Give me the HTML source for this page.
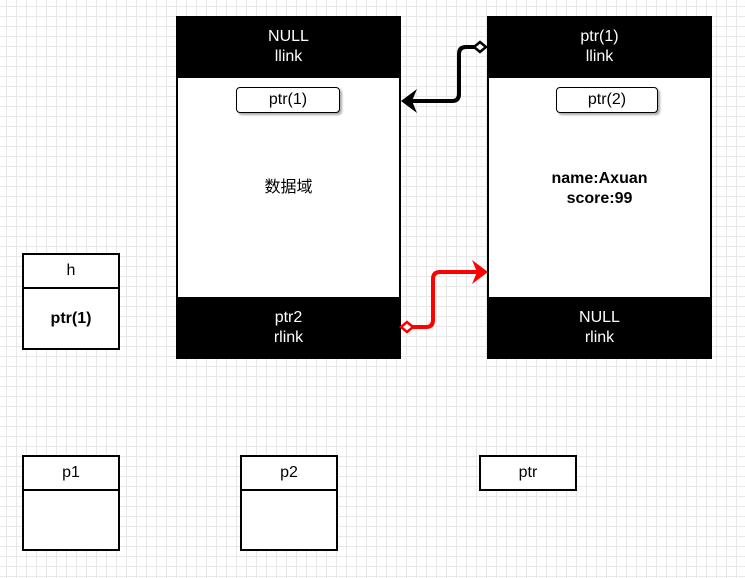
<!DOCTYPE html>
<html><head><meta charset="utf-8"><style>
body{margin:0;width:745px;height:578px;overflow:hidden;background:#fff;
background-image:linear-gradient(#e8e8e8 1px,transparent 1px),linear-gradient(90deg,#e8e8e8 1px,transparent 1px);background-size:10px 10px;background-position:-4px -4px;
font-family:"Liberation Sans","Noto Sans CJK SC",sans-serif;font-size:16px}
.a{position:absolute;box-sizing:border-box;display:flex;align-items:center;justify-content:center;text-align:center;line-height:20px}
</style></head><body>
<div class="a" style="left:176px;top:16px;width:225px;height:343px;background:#fff;border:2px solid #000"></div>
<div class="a" style="left:176px;top:16px;width:225px;height:62px;background:#000;color:#fff">NULL<br>llink</div>
<div class="a" style="left:176px;top:297px;width:225px;height:62px;background:#000;color:#fff">ptr2<br>rlink</div>
<div class="a" style="left:236px;top:87px;width:104px;height:26px;border:1.5px solid #000;border-radius:4px;box-shadow:2px 2px 2px #aaa;background:#fff">ptr(1)</div>
<div class="a" style="left:176px;top:176px;width:225px;height:24px">数据域</div>

<div class="a" style="left:487px;top:16px;width:225px;height:343px;background:#fff;border:2px solid #000"></div>
<div class="a" style="left:487px;top:16px;width:225px;height:62px;background:#000;color:#fff">ptr(1)<br>llink</div>
<div class="a" style="left:487px;top:297px;width:225px;height:62px;background:#000;color:#fff">NULL<br>rlink</div>
<div class="a" style="left:556px;top:87px;width:102px;height:26px;border:1.5px solid #000;border-radius:4px;box-shadow:2px 2px 2px #aaa;background:#fff">ptr(2)</div>
<div class="a" style="left:487px;top:168px;width:225px;height:42px;font-weight:bold">name:Axuan<br>score:99</div>

<div class="a" style="left:22px;top:253px;width:98px;height:36px;border:2px solid #000;background:#fff">h</div>
<div class="a" style="left:22px;top:287px;width:98px;height:63px;border:2px solid #000;background:#fff;font-weight:bold">ptr(1)</div>

<div class="a" style="left:22px;top:455px;width:98px;height:36px;border:2px solid #000;background:#fff">p1</div>
<div class="a" style="left:22px;top:489px;width:98px;height:62px;border:2px solid #000;background:#fff"></div>
<div class="a" style="left:240px;top:455px;width:98px;height:36px;border:2px solid #000;background:#fff">p2</div>
<div class="a" style="left:240px;top:489px;width:98px;height:62px;border:2px solid #000;background:#fff"></div>
<div class="a" style="left:479px;top:455px;width:98px;height:36px;border:2px solid #000;background:#fff">ptr</div>

<svg width="745" height="578" style="position:absolute;left:0;top:0">
<path d="M480 47 H466 Q459 47 459 54 V94 Q459 101 452 101 H408" fill="none" stroke="#000" stroke-width="4"/>
<path d="M401 101 L417 89 L412 101 L417 113 Z" fill="#000"/>
<path d="M474 47 L480 42 L486 47 L480 52 Z" fill="#fff" stroke="#000" stroke-width="2.5"/>
<path d="M412 327 H426 Q433 327 433 320 V279 Q433 272 440 272 H480" fill="none" stroke="#f00" stroke-width="4"/>
<path d="M488 272 L472 260 L477 272 L472 284 Z" fill="#f00"/>
<path d="M401 327 L407 322 L413 327 L407 332 Z" fill="#fff" stroke="#f00" stroke-width="2.5"/>
</svg>
</body></html>
